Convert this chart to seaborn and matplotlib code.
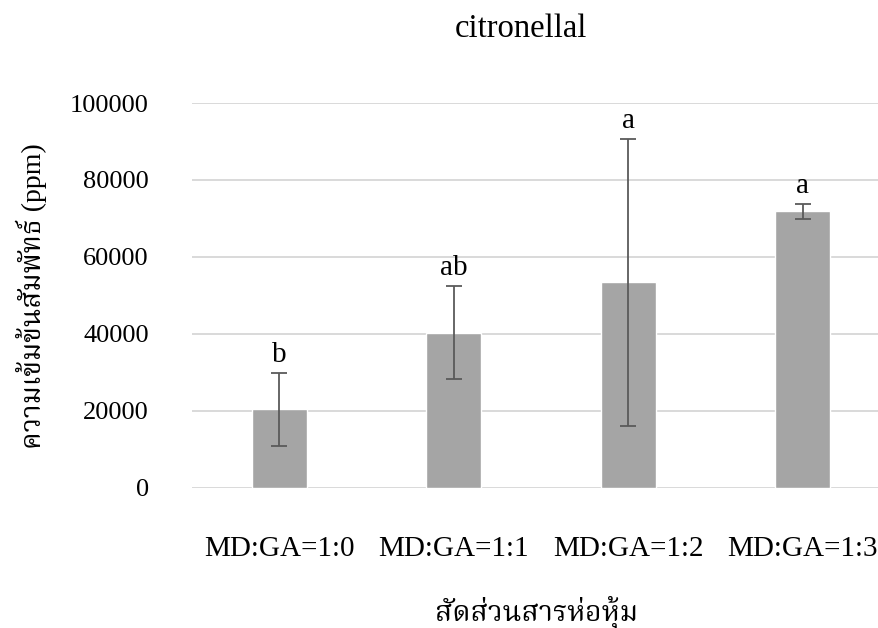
import matplotlib
matplotlib.use("Agg")
import matplotlib.pyplot as plt
from matplotlib import font_manager
from matplotlib.ft2font import FT2Font
import seaborn as sns
import pandas as pd

# Data
categories = ["MD:GA=1:0", "MD:GA=1:1", "MD:GA=1:2", "MD:GA=1:3"]
means = [20300, 40300, 53400, 71800]
errors = [9500, 12100, 37300, 1950]
letters = ["b", "ab", "a", "a"]
y_ticks = [0, 20000, 40000, 60000, 80000, 100000]
title_text = "citronellal"
x_label = "สัดส่วนสารห่อหุ้ม"
y_label = "ความเข้มข้นสัมพัทธ์ (ppm)"

df = pd.DataFrame({"ratio": categories, "conc": means})

sns.set_theme(style="white")
plt.rcParams["font.family"] = ["Liberation Serif", "DejaVu Serif"]


def find_thai_family():
    """Return an installed family that covers Thai script, preferring serif faces."""
    preferred = ["Norasi", "Noto Serif Thai", "Kinnari", "Laksaman", "TH Sarabun New",
                 "TH SarabunPSK", "Sawasdee", "Garuda", "Loma", "Noto Sans Thai",
                 "Noto Sans Thai Looped", "Umpush", "Waree", "Purisa", "Tlwg Typo"]
    found = []
    for f in font_manager.fontManager.ttflist:
        try:
            cmap = FT2Font(f.fname).get_charmap()
        except Exception:
            continue
        if 0x0E2A in cmap and 0x0E04 in cmap and 0x0E31 in cmap:
            found.append(f.name)
    for name in preferred:
        if name in found:
            return name
    return found[0] if found else None


thai = find_thai_family()
thai_family = ([thai] if thai else []) + ["DejaVu Sans"]
mixed_family = ["Liberation Serif"] + thai_family

W, H = 879, 628
fig = plt.figure(figsize=(W / 100, H / 100), dpi=100)
fig.patch.set_facecolor("white")
ax = fig.add_axes([192 / W, 1 - 487.5 / H, 698 / W, 384.5 / H])

sns.barplot(data=df, x="ratio", y="conc", color="#A5A5A5", saturation=1,
            width=0.313, errorbar=None, ax=ax, zorder=2)
ax.errorbar(x=list(range(len(categories))), y=means, yerr=errors, fmt="none",
            ecolor="#5A5A5A", elinewidth=1.3, capsize=6, capthick=1.3, zorder=3)

for i, (m, e, lab) in enumerate(zip(means, errors, letters)):
    ax.annotate(lab, xy=(i, m + e), xytext=(0, 8), textcoords="offset points",
                ha="center", va="baseline", fontsize=21, color="black",
                family="Liberation Serif")

ax.set_xlim(-0.5, len(categories) - 0.5)
ax.set_ylim(0, 100000)
ax.set_yticks(y_ticks)
ax.set_yticklabels([str(v) for v in y_ticks])
ax.yaxis.grid(True, color="#D9D9D9", linewidth=1.4, zorder=0)
ax.set_axisbelow(True)
for s in ax.spines.values():
    s.set_visible(False)
ax.tick_params(axis="y", length=0, pad=31, labelsize=19, labelcolor="black")
ax.tick_params(axis="x", length=0, pad=35, labelsize=21, labelcolor="black")
for t in ax.get_xticklabels() + ax.get_yticklabels():
    t.set_family("Liberation Serif")
ax.set_xlabel("")
ax.set_ylabel("")

fig.text(521 / W, 1 - 37 / H, title_text, ha="center", va="baseline",
         fontsize=23.5, family="Liberation Serif", color="black")
fig.text(537 / W, 1 - 620 / H, x_label, ha="center", va="baseline",
         fontsize=20.5, family=thai_family, color="black")
fig.text(31 / W, 1 - 296 / H, y_label, ha="center", va="center", rotation=90,
         fontsize=20, family=mixed_family, color="black")

fig.savefig("out.png", dpi=100, facecolor="white")
